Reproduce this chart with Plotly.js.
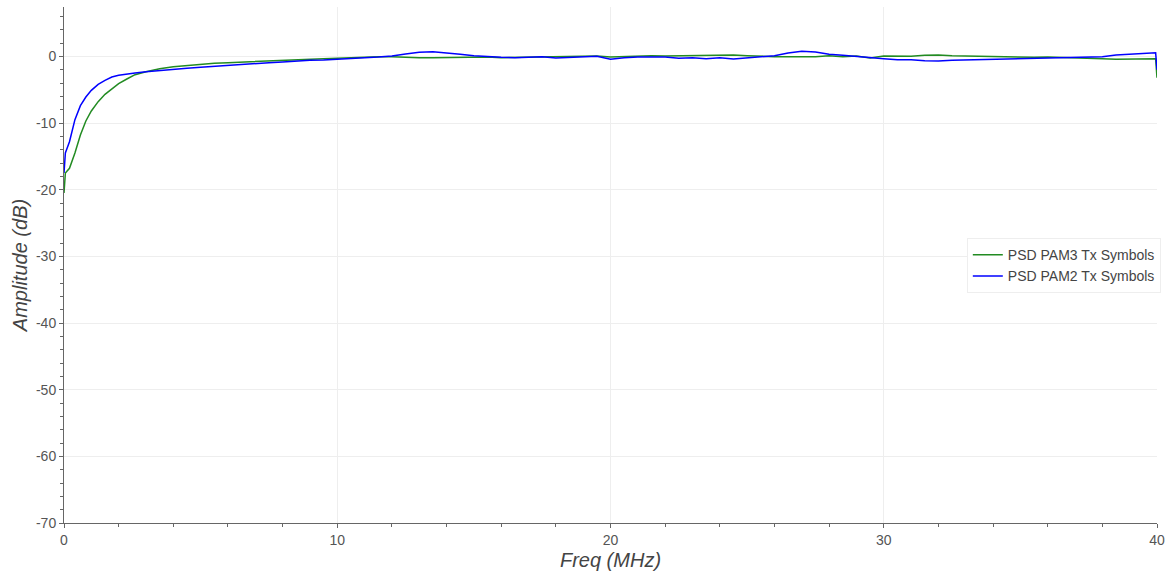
<!DOCTYPE html>
<html>
<head>
<meta charset="utf-8">
<script src="https://cdn.plot.ly/plotly-3.0.1.min.js"></script>
<style>html,body{margin:0;padding:0;background:#fff;}#chart{width:1168px;height:575px;}</style>
</head>
<body>
<div id="chart"></div>
<script>
const freq = [0,0.05,0.2,0.4,0.6,0.8,1.0,1.25,1.5,1.75,2.0,2.3,2.6,3.0,3.5,4.0,4.5,5,5.5,6,6.5,7,7.5,8,8.5,9,9.5,10,10.5,11,11.5,12,12.5,13,13.5,14,14.5,15,15.5,16,16.5,17,17.5,18,18.5,19,19.5,20,20.5,21,21.5,22,22.5,23,23.5,24,24.5,25,25.5,26,26.5,27,27.5,28,28.5,29,29.5,30,30.5,31,31.5,32,32.5,33,33.5,34,34.5,35,35.5,36,36.5,37,37.5,38,38.5,39,39.5,39.95,40];
const pam3 = [-20.5,-17.5,-16.8,-14.5,-11.8,-9.7,-8.2,-6.8,-5.7,-4.9,-4.1,-3.4,-2.75,-2.3,-1.85,-1.55,-1.35,-1.2,-1.05,-0.95,-0.85,-0.75,-0.7,-0.6,-0.45,-0.35,-0.35,-0.3,-0.2,-0.1,-0.05,-0.05,-0.15,-0.2,-0.2,-0.15,-0.1,-0.05,-0.1,-0.2,-0.15,-0.1,-0.05,-0.1,0.0,0.1,0.05,-0.1,0.0,0.05,0.1,0.05,0.1,0.05,0.2,0.15,0.2,0.1,0.0,-0.05,-0.05,-0.1,-0.05,0.1,-0.05,0.05,-0.25,0.05,0.05,0.0,0.15,0.2,0.1,0.05,0.0,-0.05,-0.1,-0.15,-0.15,-0.1,-0.15,-0.15,-0.3,-0.35,-0.45,-0.4,-0.35,-0.35,-3.2];
const pam2 = [-17.5,-14.5,-12.8,-9.5,-7.4,-6.1,-5.1,-4.2,-3.6,-3.1,-2.85,-2.65,-2.5,-2.3,-2.1,-1.95,-1.8,-1.65,-1.5,-1.35,-1.2,-1.0,-0.95,-0.85,-0.7,-0.6,-0.55,-0.4,-0.3,-0.2,-0.1,0.05,0.35,0.6,0.7,0.45,0.3,0.1,-0.05,-0.15,-0.2,-0.1,-0.05,-0.25,-0.15,-0.1,0.0,-0.45,-0.2,-0.1,-0.05,-0.1,-0.3,-0.2,-0.35,-0.2,-0.4,-0.25,-0.15,0.1,0.5,0.75,0.65,0.3,0.15,-0.05,-0.2,-0.35,-0.5,-0.5,-0.65,-0.7,-0.6,-0.55,-0.5,-0.45,-0.4,-0.3,-0.2,-0.2,-0.15,-0.15,-0.1,-0.05,0.2,0.3,0.45,0.55,-2.0];
const seriesNames = ['PSD PAM3 Tx Symbols','PSD PAM2 Tx Symbols'];
const xTickVals = [0, 10, 20, 30, 40];
const xTickText = ['0', '10', '20', '30', '40'];
const yTickVals = [-70, -60, -50, -40, -30, -20, -10, 0];
const yTickText = ['-70', '-60', '-50', '-40', '-30', '-20', '-10', '0'];
const xTitle = 'Freq (MHz)';
const yTitle = 'Amplitude (dB)';

const traces = [
  {x: freq, y: pam3, type: 'scatter', mode: 'lines', name: seriesNames[0], line: {color: '#228b22', width: 1.5}},
  {x: freq, y: pam2, type: 'scatter', mode: 'lines', name: seriesNames[1], line: {color: '#0000ff', width: 1.5}}
];
const fontFam = '"Liberation Sans", Arial, sans-serif';
const axisCommon = {
  showline: true, linecolor: '#666', linewidth: 1,
  ticks: 'outside', ticklen: 4, tickcolor: '#666',
  showgrid: true, gridcolor: '#eeeeee', zeroline: false, automargin: false,
  tickfont: {family: fontFam, size: 14, color: '#555'},
  minor: {ticks: 'outside', ticklen: 3, tickcolor: '#666', dtick: 2, showgrid: false}
};
const layout = {
  width: 1168, height: 575,
  margin: {l: 64, r: 8, t: 7, b: 52},
  paper_bgcolor: '#fff', plot_bgcolor: '#fff',
  showlegend: true,
  xaxis: Object.assign({}, axisCommon, {range: [0, 40], tickmode: 'array', tickvals: xTickVals, ticktext: xTickText,
    title: {text: xTitle, font: {family: fontFam, size: 20, color: '#444', style: 'italic'}, standoff: 6}}),
  yaxis: Object.assign({}, axisCommon, {range: [-70, 7.4], tickmode: 'array', tickvals: yTickVals, ticktext: yTickText,
    title: {text: yTitle, font: {family: fontFam, size: 20, color: '#444', style: 'italic'}, standoff: 2}}),
  legend: {x: 0.826, y: 0.552, xanchor: 'left', yanchor: 'top', bgcolor: '#fff', bordercolor: '#eeeeee', borderwidth: 1,
    font: {family: fontFam, size: 14, color: '#444'}, itemwidth: 30, tracegroupgap: 0}
};
Plotly.newPlot('chart', traces, layout, {displayModeBar: false, staticPlot: true});
</script>
</body>
</html>
